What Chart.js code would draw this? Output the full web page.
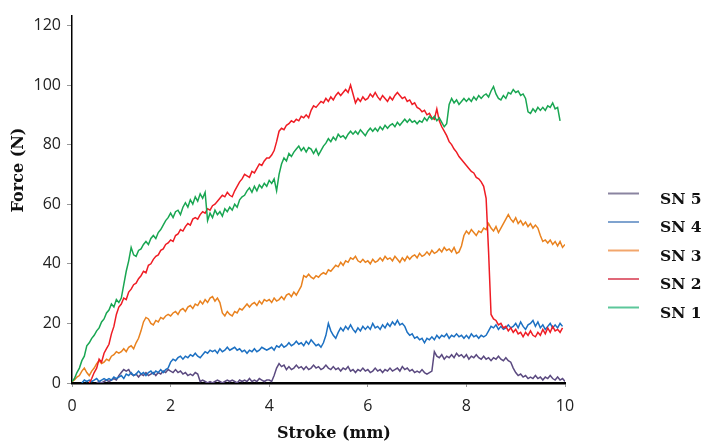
<!DOCTYPE html>
<html>
<head>
<meta charset="utf-8">
<script src="https://cdn.jsdelivr.net/npm/chart.js@4.4.1/dist/chart.umd.min.js"></script>
<style>
  body { margin: 0; background: #fff; }
  #wrap { width: 701px; height: 445px; position: relative; }
</style>
</head>
<body>
<div id="wrap"><canvas id="force-stroke"></canvas></div>
<script>
// ------------- Force vs stroke data ------------- //

// stroke positions, mm (0 to 10 every 0.05)
var stroke = Array.from({ length: 201 }, function (_, i) { return +(i * 0.05).toFixed(2); });

var xTicks = [0, 2, 4, 6, 8, 10];
var yTicks = [0, 20, 40, 60, 80, 100, 120];

var legendNames = ["SN 5", "SN 4", "SN 3", "SN 2", "SN 1"];

// force, N
var sn1 = [
  0.5,1.5,3.5,5,7.5,9,12.5,13.5,15,16,17.5,18.5,20.5,21.5,23.5,24.5,26.5,25.5,28,27,
  28.5,33,37.5,41,45.5,43,42.5,44.5,45,46.5,47.5,46.5,48.5,49.5,48.5,50.5,51.5,53,54.5,55.5,
  57,55.5,57.5,58,56.5,59,60.5,59,61.5,60,62.5,61,63.5,62,64,54.5,57,55.5,58,56.5,
  57.5,56,58.5,57.5,59,58,60,59,61.5,62.5,63,64.5,65.5,64,66,64.5,66.5,65.5,67,66,
  68,67,68.5,64.5,70,73.5,75.5,74.5,77,76,77.5,78.5,79.5,78,79,77.5,79,78.5,77,78.5,
  76.5,78,79.5,80.5,82,81,82.5,81.5,83.5,82.5,83,82,83.5,84.5,83.5,84.5,83.5,85,84,83,
  84.5,85.5,84.5,85.5,84.5,86,85,86.5,85.5,86.5,87,86,87.5,86.5,87.5,88.5,87.5,88.5,87.5,88,
  87,88,87.5,89,88,89.5,88.5,89.5,88,89,87.5,86,87,93.5,95.5,94,95,93.5,94.5,95.5,
  94.5,95.5,94.5,96,95,96.5,95.5,96.5,97,96,98,99.5,97,95.5,95,96.5,95.5,97.5,97,98.5,
  97.5,98,96.5,97,95.5,91,90.5,92,91,92.5,91.5,92.5,91.5,93,92.5,94,92,92.5,88,null,
  null
];

var sn2 = [
  null,null,null,null,null,null,null,0,1.5,3.5,5,8,7,10,11.5,13,16.5,19,23,25.5,
  26.5,28.5,28,30.5,31.5,33,33.5,35,36,37.5,37,39.5,40,41.5,42.5,43,44.5,45,46.5,47,
  48,47.5,49.5,50,51.5,51,52.5,53.5,53,55,55.5,55,56.5,57.5,57,58.5,58,59.5,60,61,
  62,63,62.5,64,63,62.5,64.5,66,67.5,68.5,70,69.5,69,71,70.5,72,73.5,73,74.5,75.5,
  75.5,76.5,78,81,84.5,85.5,85,86.5,87,88,87.5,88.5,88,89.5,89,90,89,91.5,93,92.5,
  93.5,94.5,94,95.5,94.5,96,95,96.5,97.5,96.5,97.5,98.5,97.5,100,97,94,95.5,94.5,96,95,
  95.5,97,96,97.5,96,95,96.5,95.5,94.5,96,95,96.5,97.5,96.5,95.5,96,94.5,95,93.5,94,
  92.5,92,91,91.5,90,90.5,89,88.5,92,88,86,84.5,83,81,80,78.5,77.5,76,75,74,
  73,72,71,70.5,69,68.5,67.5,66,62,44,23,21.5,21,19.5,20,18.5,19,17.5,18.5,17,
  18,16.5,17,15.5,17,16,17.5,16,15.5,17,16,18,16.5,18.5,17,19,17.5,18,17,18.5,
  null
];

var sn3 = [
  0.5,1,2,2.5,4,5,3.5,2.5,4,5,6.5,7.5,6.5,7,8,7.5,9,9.5,10.5,10,
  10.5,11.5,10.5,12,12.5,11.5,13.5,15,17.5,20.5,22,21.5,20,19.5,21,20.5,22,21.5,22.5,23,
  22.5,23.5,24,23,24.5,25,24,25.5,26,25,26.5,26,27.5,26.5,28,27,28.5,29,27.5,28.5,
  27,23.5,22.5,24,23,22.5,24,23.5,25,24.5,25.5,26.5,25.5,26.5,27,26,27.5,26.5,28,27.5,
  28,27,28.5,27.5,28,29,28,29.5,30,29,30.5,29.5,31,32.5,36,35.5,36.5,35.5,35,36,
  35.5,36.5,37,36.5,38,37.5,38.5,39.5,39,40.5,39.5,41,40.5,42,41.5,42.5,41,40.5,41.5,40.5,
  41,40,41.5,40.5,41,42,41,42.5,41.5,42,41,42.5,41.5,40.5,42,41,42.5,41.5,42.5,43,
  42,43.5,42.5,43,44,43,44.5,43.5,44,45,44,45.5,44.5,45,44,45.5,43.5,44,46,49.5,
  51,50,51.5,50.5,49.5,51,50.5,52,51.5,53.5,52,51,52.5,50.5,52,53.5,55,56.5,55,54,
  55.5,53.5,54.5,53,54,52.5,53.5,52,53,52,49.5,47.5,48,47,48,46.5,47.5,46,47.5,45.5,
  46.5
];

var sn4 = [
  null,null,null,null,0,1,0.5,1,0.5,1,1.5,0.5,1,1.5,1,1.5,1,2,1.5,2,
  2.5,1.5,3,2.5,3.5,2.5,3,4,3,3.5,2.5,3.5,4,3,4,3.5,4.5,3.5,4.5,5,
  7,8,7.5,8.5,9,8,9,8.5,9.5,9,10,9,8.5,9.5,10.5,10,11,10.5,11,10,
  11.5,10.5,11,12,11,11.5,12,11,11.5,10.5,11,10,11,10.5,11.5,10.5,11,12,11.5,11,
  11.5,12,11,12.5,12,13,12,12.5,13.5,12.5,13,14,13,13.5,12.5,14,13,14.5,13.5,12.5,
  13,12,13.5,16,20,17.5,16,15,17,18.5,17.5,19,18,19.5,18,17,18.5,17.5,19,18,
  19,18,20,18.5,19,18,19.5,18.5,20,19,20.5,19.5,21,19.5,20,19,17,16,16.5,15,
  15.5,14.5,15,13.5,15,14.5,15.5,14.5,16,15,16,15.5,16.5,15,16,15.5,16.5,15.5,16,15,
  16,15,16.5,15.5,16,15,16,15.5,16,17.5,19,18.5,19.5,18,19,18,18.5,19.5,18.5,19,
  20,18.5,20.5,19,18,19.5,20,21,19,20.5,18.5,19.5,18,19,20,18.5,19.5,18.5,20,19,
  null
];

var sn5 = [
  null,null,null,null,null,null,null,null,null,null,0,0.5,0,0.5,1,0.5,1,1.5,1,2.5,
  3.5,4.5,4,4.5,3,2.5,3,2,3,2.5,3.5,2.5,3,3.5,2.5,3.5,3,4,3.5,4.5,
  4,3.5,4.5,3.5,4,3,3.5,2.5,3,2.5,3.5,3,0.5,1,0.5,0,0.5,0,0.5,1,
  0.5,0,0.5,1,0.5,1,0.5,0,1,0.5,1,0.5,1.5,0.5,1,0.5,1.5,1,0.5,1,
  1,0.5,2.5,5,6.5,5.5,6,4.5,5.5,4.5,5,6,5,5.5,4.5,5.5,4.5,5,6,5,
  5.5,4.5,5,6,5,4.5,5.5,4.5,5,4,5,4.5,5.5,4,4.5,3.5,4.5,4,5,4,
  4.5,3.5,4,5,4,4.5,3.5,4.5,4,5,4,4.5,5,4,5.5,4.5,5,4,4.5,3.5,
  4,3.5,4.5,3.5,3,3.5,4,10.5,9,8.5,9.5,8,9,8.5,9.5,8.5,10,9,9.5,8.5,
  9.5,8,9,8.5,9.5,8.5,8,9,8,8.5,7.5,8.5,8,9,8,7.5,8.5,7.5,7,5,
  3.5,2.5,3,2,2.5,1.5,2,1.5,2.5,1.5,2,1,2,1.5,2.5,1.5,1,2,1,1.5,
  0.5
];

var colors = {
  "SN 1": "#19a652",
  "SN 2": "#ef1c24",
  "SN 3": "#e9821f",
  "SN 4": "#1c70c2",
  "SN 5": "#5b4a80"
};

// the legend keys in the figure are paler than the curves
var legendColors = {
  "SN 1": "#5cc79a",
  "SN 2": "#e06878",
  "SN 3": "#f2a66c",
  "SN 4": "#7fa3cf",
  "SN 5": "#8a84a0"
};

function points(values) {
  return stroke.map(function (x, i) { return { x: x, y: values[i] }; });
}

function series(name, values) {
  return {
    label: name,
    data: points(values),
    borderColor: colors[name],
    borderWidth: 1.5,
    pointRadius: 0,
    fill: false,
    tension: 0
  };
}

// axis titles and legend drawn by hand, positions follow the original figure
var decorations = {
  id: "decorations",
  afterDraw: function (chart) {
    var ctx = chart.ctx;
    ctx.save();
    ctx.fillStyle = "#111";
    ctx.font = "bold 16px 'DejaVu Serif', serif";
    ctx.textAlign = "center";
    ctx.textBaseline = "middle";
    ctx.fillText("Stroke (mm)", 334, 434);

    ctx.save();
    ctx.translate(19, 170);
    ctx.rotate(-Math.PI / 2);
    ctx.fillText("Force (N)", 0, 0);
    ctx.restore();

    ctx.textAlign = "left";
    ctx.font = "bold 15.5px 'DejaVu Serif', serif";
    legendNames.forEach(function (name, i) {
      var y = 193.5 + i * 28.5;
      ctx.strokeStyle = legendColors[name];
      ctx.lineWidth = 2;
      ctx.beginPath();
      ctx.moveTo(608, y);
      ctx.lineTo(639, y);
      ctx.stroke();
      ctx.fillStyle = "#111";
      ctx.fillText(name, 660, y + 6);
    });
    ctx.restore();
  }
};

var forceChart = new Chart("force-stroke", {
  type: "line",
  data: {
    datasets: [
      series("SN 1", sn1),
      series("SN 2", sn2),
      series("SN 3", sn3),
      series("SN 4", sn4),
      series("SN 5", sn5)
    ]
  },
  options: {
    responsive: true,
    maintainAspectRatio: false,
    animation: false,
    layout: { padding: { left: 0, top: 13, right: 136, bottom: 0 } },
    plugins: {
      legend: { display: false },
      tooltip: { enabled: false }
    },
    scales: {
      x: {
        type: "linear",
        min: 0,
        max: 10,
        afterBuildTicks: function (scale) {
          scale.ticks = xTicks.map(function (v) { return { value: v }; });
        },
        afterFit: function (scale) { scale.height = 62; },
        border: { display: true, color: "#000", width: 2.5 },
        grid: { display: true, drawOnChartArea: false, tickLength: 4, color: "#999" },
        ticks: {
          color: "#222",
          padding: 10,
          maxRotation: 0,
          font: { family: "'Open Sans', sans-serif", size: 16 }
        }
      },
      y: {
        min: 0,
        max: 123.3,
        afterBuildTicks: function (scale) {
          scale.ticks = yTicks.map(function (v) { return { value: v }; });
        },
        afterFit: function (scale) { scale.width = 72; },
        border: { display: true, color: "#000", width: 1.5 },
        grid: { display: true, drawOnChartArea: false, tickLength: 5, color: "#999" },
        ticks: {
          color: "#222",
          padding: 6,
          font: { family: "'Open Sans', sans-serif", size: 16 }
        }
      }
    }
  },
  plugins: [decorations]
});
</script>
</body>
</html>
